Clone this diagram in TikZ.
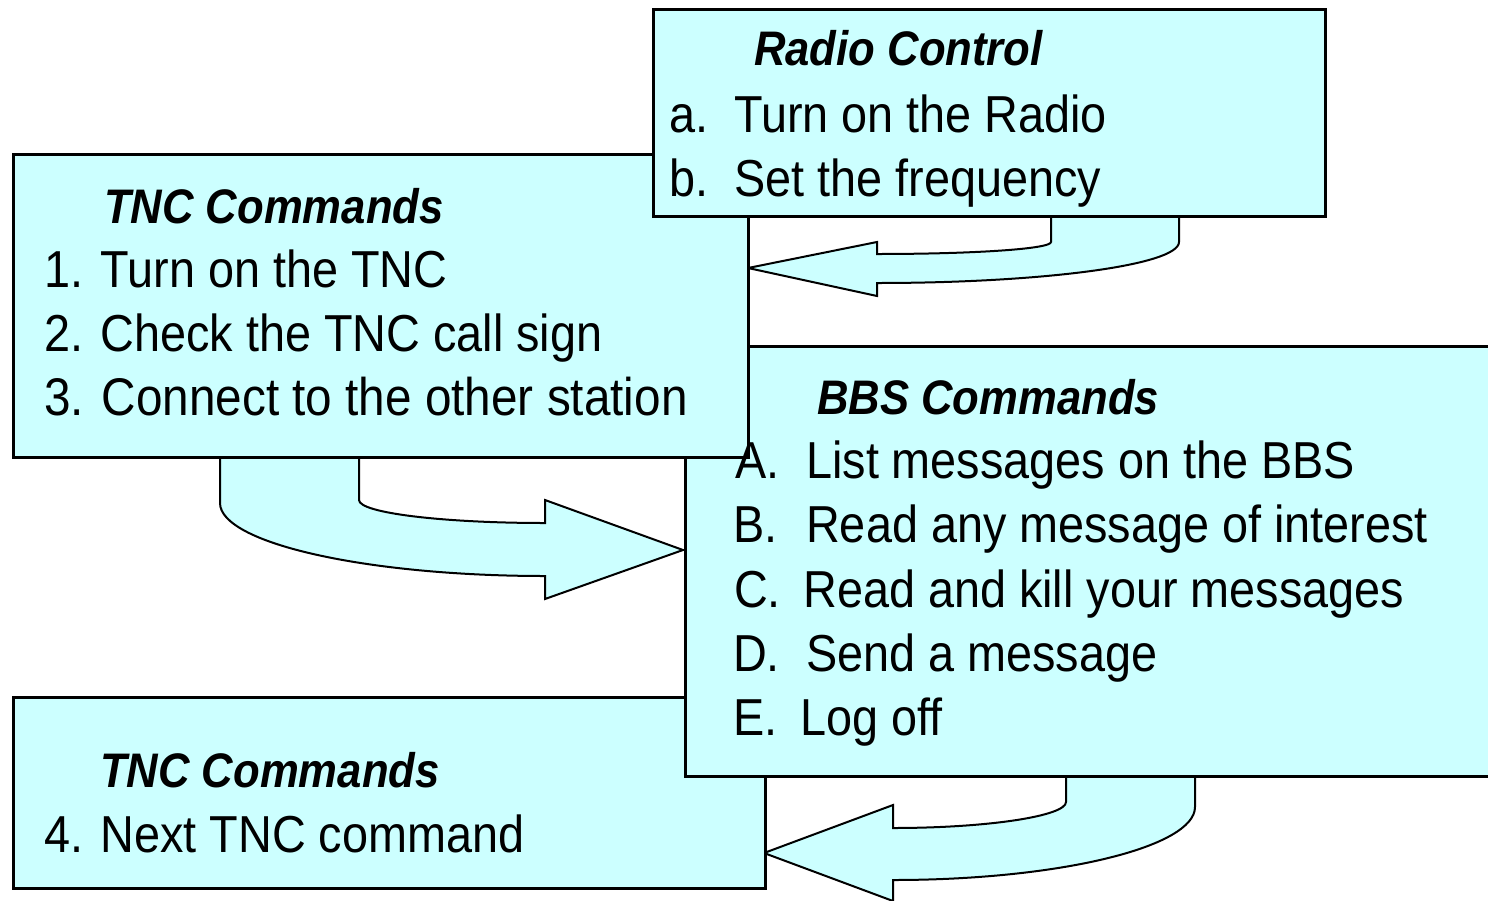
\documentclass[tikz,border=0pt]{standalone}
\usepackage{fontspec}
\setmainfont[FakeStretch=0.9]{Liberation Sans}
\usetikzlibrary{calc}
\definecolor{boxfill}{HTML}{CCFFFF}
\tikzset{
  panel/.style={draw=black, fill=boxfill, line width=2.6pt, inner sep=0pt, anchor=north west},
  uturn/.style={draw=black, fill=boxfill, line width=2pt, line join=miter},
  body/.style={font=\fontsize{52}{62}\selectfont, anchor=base west, inner sep=0pt},
  head/.style={font=\fontsize{48.5}{58}\selectfont\bfseries\itshape, anchor=base west, inner sep=0pt}
}
\begin{document}
\begin{tikzpicture}[x=1pt, y=-1pt]
\path[use as bounding box] (0,0) rectangle (1488,900);
\clip (0,0) rectangle (1488,900);

% block arrows (U-turns)
\draw[uturn] (1051,215) -- (1051,242) .. controls (1051,249) and (973,254) .. (877,254)
  -- (877,242) -- (748,268) -- (877,296) -- (877,283)
  .. controls (1043,283) and (1179,265) .. (1179,242) -- (1179,215) -- cycle;
\draw[uturn] (359,456) -- (359,500) .. controls (359,513) and (443,523) .. (545,523)
  -- (545,500) -- (683,550) -- (545,599) -- (545,576)
  .. controls (366,576) and (220,543) .. (220,503) -- (220,456) -- cycle;
\draw[uturn] (1066,775) -- (1066,802) .. controls (1066,816) and (988,828) .. (893,828)
  -- (893,805) -- (764,853) -- (893,901) -- (893,880)
  .. controls (1059,880) and (1195,847) .. (1195,807) -- (1195,775) -- cycle;

% boxes
\node[panel, minimum width=752pt, minimum height=191pt] (tnc2) at (12,696) {};
\node[head] (tnc2h) at (100,787) {TNC Commands};
\node[body] (tnc2a) at (44,852) {4. Next TNC command};

\node[panel, minimum width=830pt, minimum height=430pt] (bbs) at (684,345) {};

\node[panel, minimum width=735pt, minimum height=303pt] (tnc1) at (12,153) {};
\node[head] (tnc1h) at (104,223) {TNC Commands};
\node[body] (tnc1a) at (44,287) {1. Turn on the TNC};
\node[body] (tnc1b) at (44,351) {2. Check the TNC call sign};
\node[body, font=\fontsize{53}{62}\selectfont] (tnc1c) at (44,415) {3. Connect to the other station};

\node[head] (bbsh) at (817,414) {BBS Commands};
\node[body] (bbsA) at (735,478) {A.};
\node[body] (bbsAt) at (806,478) {List messages on the BBS};
\node[body] (bbsB) at (733,542) {B.};
\node[body] (bbsBt) at (806,542) {Read any message of interest};
\node[body] (bbsC) at (734,607) {C.};
\node[body] (bbsCt) at (803,607) {Read and kill your messages};
\node[body] (bbsD) at (733,671) {D.};
\node[body] (bbsDt) at (806,671) {Send a message};
\node[body] (bbsE) at (733,735) {E.};
\node[body] (bbsEt) at (800,735) {Log off};

\node[panel, minimum width=672pt, minimum height=207pt] (radio) at (652,8) {};
\node[head] (radioh) at (754,65) {Radio Control};
\node[body] (radioa) at (669,132) {a.};
\node[body] (radioat) at (734,132) {Turn on the Radio};
\node[body] (radiob) at (669,196) {b.};
\node[body] (radiobt) at (734,196) {Set the frequency};
\end{tikzpicture}
\end{document}
